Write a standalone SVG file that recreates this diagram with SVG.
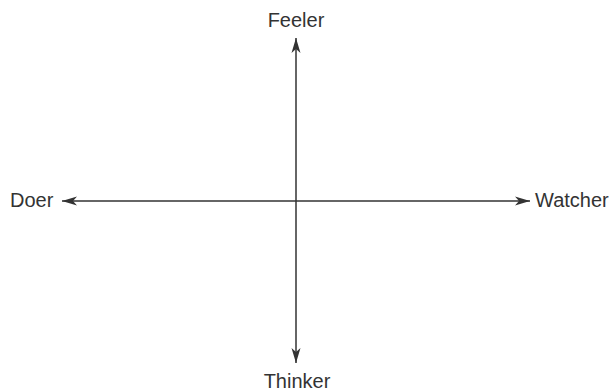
<svg xmlns="http://www.w3.org/2000/svg" width="613" height="391" viewBox="0 0 613 391">
<style>
.t{font-family:"Liberation Sans",Arial,sans-serif;font-size:20px;fill:#333}
.c{stroke:#333;stroke-width:1.5;fill:none}
</style>
<defs>
<marker id="ah" markerUnits="userSpaceOnUse" markerWidth="16" markerHeight="12" viewBox="0 0 16 12" refX="15" refY="6" orient="auto-start-reverse">
<path d="M0,1.5 L15,6 L0,10.5 L4,6 Z" fill="#333"/>
</marker>
</defs>
<rect width="613" height="391" fill="#fff"/>
<g id="connectors">
<line class="c" x1="296" y1="38" x2="296" y2="363" marker-start="url(#ah)" marker-end="url(#ah)"/>
<line class="c" x1="62" y1="201" x2="530" y2="201" marker-start="url(#ah)" marker-end="url(#ah)"/>
</g>
<g id="feeler"><text class="t" x="296" y="27" text-anchor="middle">Feeler</text></g>
<g id="thinker"><text class="t" x="297" y="388" text-anchor="middle">Thinker</text></g>
<g id="doer"><text class="t" x="10" y="207">Doer</text></g>
<g id="watcher"><text class="t" x="535" y="207">Watcher</text></g>
</svg>
